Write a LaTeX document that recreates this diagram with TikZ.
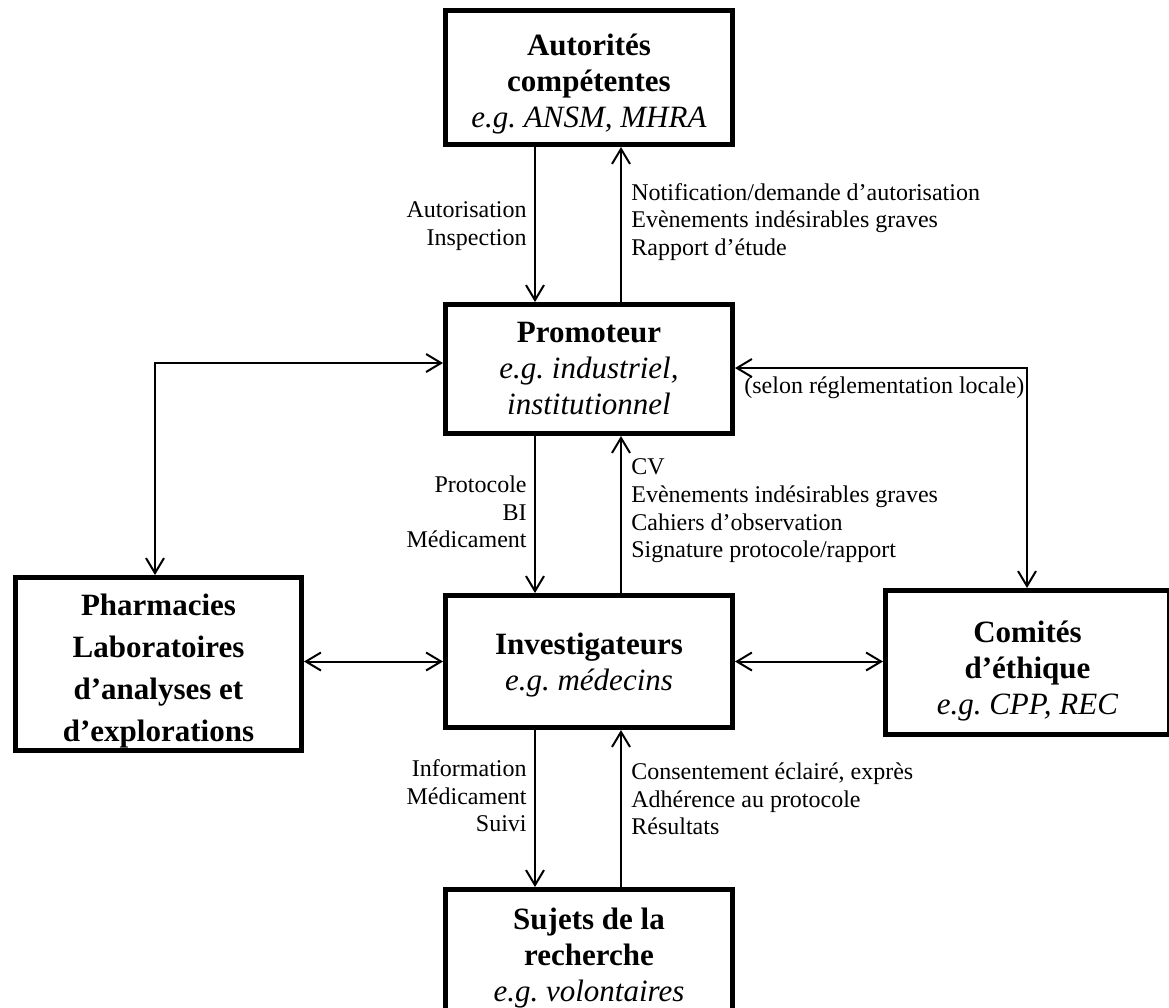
\documentclass[tikz,border=0pt]{standalone}
\usepackage{fontspec}
\setmainfont{Liberation Serif}
\usetikzlibrary{arrows.meta}

\newcommand{\drop}[1]{\rule{0pt}{#1}}

\begin{document}
\begin{tikzpicture}[x=0.5pt, y=-0.5pt, font=\fontsize{12}{13.8}\selectfont,
        box/.style={draw, line width=2.5pt, inner sep=0pt, align=center, minimum width=143.5pt, font=\fontsize{15.5}{18}\selectfont},
        lab/.style={inner sep=0pt},
        arr/.style={line width=1pt, -{Straight Barb[length=7.5pt, width=9pt, line width=1pt]}},
        both/.style={line width=1pt, {Straight Barb[length=7.5pt, width=9pt, line width=1pt]}-{Straight Barb[length=7.5pt, width=9pt, line width=1pt]}}]
        \useasboundingbox (0,0) rectangle (1169,1008);

        \node[box, minimum height=67pt] (aut) at (589,77.5) {\drop{17pt}\textbf{Autorités}\\\textbf{compétentes}\\\textit{e.g.\ ANSM, MHRA}};
        \node[box, minimum height=64.5pt] (prom) at (589,369) {\textbf{Promoteur}\\\textit{e.g.\ industriel,}\\\textit{institutionnel}};
        \node[box, minimum height=66pt] (inv) at (589,661.5) {\drop{14.5pt}\textbf{Investigateurs}\\\textit{e.g.\ médecins}};
        \node[box, minimum width=143pt, minimum height=86.5pt, font=\fontsize{15.5}{21}\selectfont] (pharm) at (158.5,664) {\drop{17.5pt}\textbf{Pharmacies}\\\textbf{Laboratoires}\\\textbf{d'analyses et}\\\textbf{d'explorations}};
        \node[box, minimum width=142pt, minimum height=72pt] (com) at (1027.5,662.5) {\drop{19pt}\textbf{Comités}\\\textbf{d'éthique}\\\textit{e.g.\ CPP, REC}};
        \node[box, minimum height=64.5pt] (suj) at (589,954) {\drop{14.5pt}\textbf{Sujets de la}\\\textbf{recherche}\\\textit{e.g.\ volontaires}};

        % vertical flows
        \coordinate (dn) at (535,0);
        \coordinate (up) at (621,0);
        \draw[arr] (aut.south -| dn) -- (prom.north -| dn);
        \draw[arr] (prom.north -| up) -- (aut.south -| up);
        \draw[arr] (prom.south -| dn) -- (inv.north -| dn);
        \draw[arr] (inv.north -| up) -- (prom.south -| up);
        \draw[arr] (inv.south -| dn) -- (suj.north -| dn);
        \draw[arr] (suj.north -| up) -- (inv.south -| up);

        % side links
        \draw[both] (pharm.east |- inv.west) -- (inv.west);
        \draw[both] (inv.east) -- (com.west |- inv.east);
        \coordinate (pl) at (155,363);
        \coordinate (pr) at (1027,368);
        \draw[both] (pharm.north -| pl) |- (prom.west |- pl);
        \draw[both] (prom.east |- pr) -| (com.north -| pr);

        \node[lab, anchor=east, align=right] (l1) at (527,226) {Autorisation\\Inspection};
        \node[lab, anchor=west, align=left] (l2) at (631,222) {Notification/demande d'autorisation\\Evènements indésirables graves\\Rapport d'étude};
        \node[lab, anchor=east, align=right] (l3) at (527,512) {Protocole\\BI\\Médicament};
        \node[lab, anchor=west, align=left] (l4) at (631,511) {CV\\Evènements indésirables graves\\Cahiers d'observation\\Signature protocole/rapport};
        \node[lab, anchor=west] (l5) at (744,388) {(selon réglementation locale)};
        \node[lab, anchor=east, align=right] (l6) at (527,796) {Information\\Médicament\\Suivi};
        \node[lab, anchor=west, align=left] (l7) at (631,799) {Consentement éclairé, exprès\\Adhérence au protocole\\Résultats};
\end{tikzpicture}
\end{document}
